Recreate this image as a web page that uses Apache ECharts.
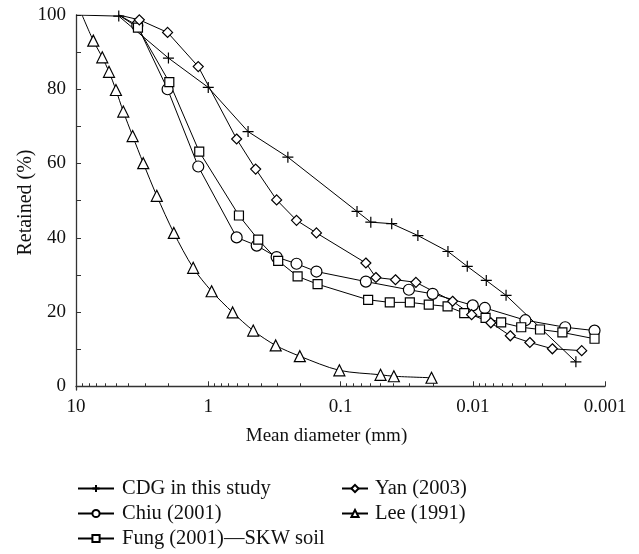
<!DOCTYPE html>
<html>
<head>
<meta charset="utf-8">
<script src="https://cdn.jsdelivr.net/npm/echarts@6/dist/echarts.min.js"></script>
<style>
  html, body { margin: 0; padding: 0; background: #fff; }
  #chart { width: 639px; height: 554px; }
</style>
</head>
<body>
<div id="chart"></div>
<script>
// [mean diameter (mm), retained (%)]; first point of each series has no marker
var cdgData = [[10, 100], [4.75, 99.7], [2.0, 88.4], [1.0, 80.5], [0.5, 68.6], [0.25, 61.7],
  [0.075, 47.1], [0.059, 44.2], [0.041, 43.8], [0.026, 40.6], [0.0154, 36.3], [0.011, 32.3],
  [0.0079, 28.5], [0.0056, 24.5], [0.00166, 6.6]]
var chiuData = [[4.75, 100], [3.44, 97.2], [2.03, 80.0], [1.19, 59.2], [0.61, 40.1], [0.43, 37.9],
  [0.304, 34.8], [0.215, 33.0], [0.152, 30.9], [0.0643, 28.2], [0.0304, 26.0], [0.0201, 24.9],
  [0.01, 21.8], [0.0081, 21.1], [0.004, 17.8], [0.002, 15.9], [0.0012, 15.0]]
var fungData = [[4.75, 100], [3.4, 96.6], [1.97, 81.9], [1.17, 63.2], [0.586, 46.0], [0.419, 39.5],
  [0.296, 33.8], [0.211, 29.6], [0.149, 27.5], [0.0618, 23.3], [0.0424, 22.6], [0.0299, 22.6],
  [0.0215, 22.0], [0.0155, 21.5], [0.0116, 19.7], [0.008, 18.4], [0.0061, 17.2], [0.0043, 15.9],
  [0.0031, 15.3], [0.0021, 14.5], [0.0012, 12.8]]
var yanData = [[4.75, 100], [3.32, 98.7], [2.03, 95.3], [1.19, 86.1], [0.61, 66.6], [0.438, 58.5],
  [0.304, 50.2], [0.215, 44.7], [0.152, 41.3], [0.0643, 33.2], [0.054, 29.3], [0.0384, 28.7],
  [0.0269, 28.0], [0.0142, 22.9], [0.0102, 19.3], [0.0073, 17.1], [0.0052, 13.6], [0.0037, 11.8],
  [0.0025, 10.1], [0.0015, 9.6]]
var leeData = [[9.0, 100], [7.4, 93.1], [6.33, 88.6], [5.63, 84.7], [4.99, 79.8], [4.39, 74.0],
  [3.73, 67.4], [3.10, 60.1], [2.45, 51.3], [1.82, 41.3], [1.30, 31.9], [0.943, 25.6],
  [0.654, 19.9], [0.457, 15.0], [0.309, 11.0], [0.203, 8.1], [0.102, 4.3], [0.0498, 3.1],
  [0.0395, 2.7], [0.0205, 2.3]]

var xMajorTicks = [10, 1, 0.1, 0.01, 0.001]
var xMinorTicks = []
xMajorTicks.slice(1).forEach(function (d) {
  for (var k = 2; k <= 9; k++) xMinorTicks.push(+(d * k).toPrecision(3))
})
var yLabels = [0, 20, 40, 60, 80, 100]
var yTicks = [0, 10, 20, 30, 40, 50, 60, 70, 80, 90, 100]

var font = 'Liberation Serif'
var plusPath = 'path://M0,5L10,5M5,0L5,10'

function startNoMarker(data) {
  return data.map(function (p, i) {
    return i === 0 ? { value: p, symbol: 'none' } : p
  })
}

function makeSeries(name, data, symbol, size, smooth) {
  return {
    name: name,
    type: 'line',
    data: startNoMarker(data),
    symbol: symbol,
    symbolSize: size,
    showAllSymbol: true,
    smooth: smooth || false,
    lineStyle: { color: '#000', width: 1 },
    itemStyle: { color: '#fff', borderColor: '#000', borderWidth: 1.2 },
    emphasis: { disabled: true }
  }
}

var legendText = { fontFamily: font, fontSize: 20.5, lineHeight: 21, color: '#111' }

var chart = echarts.init(document.getElementById('chart'))
var grid = { left: 76, top: 15, right: 34, bottom: 164 }
var option = {
  animation: false,
  backgroundColor: '#fff',
  textStyle: { fontFamily: font },
  grid: [grid, grid],
  legend: [{
    data: ['CDG in this study', 'Chiu (2001)', 'Fung (2001)\u2014SKW soil'],
    orient: 'vertical',
    left: 77, top: 478,
    padding: 0,
    itemWidth: 36, itemHeight: 9, itemGap: 4,
    textStyle: Object.assign({ padding: [0, 0, 0, 3] }, legendText)
  }, {
    data: ['Yan (2003)', 'Lee (1991)'],
    orient: 'vertical',
    left: 341, top: 478,
    padding: 0,
    itemWidth: 26, itemHeight: 9, itemGap: 4,
    textStyle: Object.assign({ padding: [0, 0, 0, 2] }, legendText)
  }],
  xAxis: [{
    type: 'log',
    logBase: 10,
    min: 0.001,
    max: 10,
    inverse: true,
    name: 'Mean diameter (mm)',
    nameLocation: 'middle',
    nameGap: 37,
    nameMoveOverlap: false,
    nameTextStyle: { fontFamily: font, fontSize: 19, color: '#111', padding: [0, 28, 0, 0] },
    axisLine: { lineStyle: { color: '#333', width: 1.3 } },
    axisTick: { inside: true, length: 5, lineStyle: { color: '#333' }, customValues: xMajorTicks },
    axisLabel: { fontFamily: font, fontSize: 19, color: '#111', margin: 8, customValues: xMajorTicks,
      formatter: function (v) { return String(+v.toPrecision(3)) } },
    splitLine: { show: false }
  }, {
    type: 'log',
    logBase: 10,
    gridIndex: 1,
    min: 0.001,
    max: 10,
    inverse: true,
    axisLine: { show: false },
    axisTick: { inside: true, length: 3, lineStyle: { color: '#333' }, customValues: xMinorTicks },
    axisLabel: { show: false },
    splitLine: { show: false }
  }],
  yAxis: [{
    type: 'value',
    min: -1,
    max: 100,
    name: 'Retained (%)',
    nameLocation: 'middle',
    nameGap: 40,
    nameMoveOverlap: false,
    nameTextStyle: { fontFamily: font, fontSize: 20, color: '#111' },
    axisLine: { show: true, lineStyle: { color: '#333', width: 1.3 } },
    axisTick: { show: true, inside: true, length: 5, lineStyle: { color: '#333' }, customValues: yTicks },
    axisLabel: { fontFamily: font, fontSize: 19, color: '#111', margin: 10, customValues: yLabels },
    splitLine: { show: false }
  }, {
    type: 'value',
    gridIndex: 1,
    min: -1,
    max: 100,
    show: false
  }],
  series: [
    makeSeries('CDG in this study', cdgData, plusPath, 11),
    makeSeries('Chiu (2001)', chiuData, 'circle', 11),
    makeSeries('Fung (2001)\u2014SKW soil', fungData, 'rect', 9),
    makeSeries('Yan (2003)', yanData, 'diamond', 10),
    makeSeries('Lee (1991)', leeData, 'triangle', 11, 0.3)
  ]
}
chart.setOption(option)
</script>
</body>
</html>
